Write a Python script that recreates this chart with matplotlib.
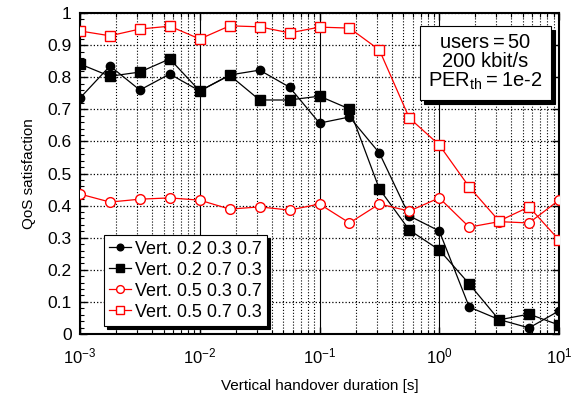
import numpy as np
import matplotlib
matplotlib.use("Agg")
import matplotlib.pyplot as plt
from matplotlib.patches import Shadow
from matplotlib.ticker import LogLocator, MultipleLocator, NullFormatter

plt.rcParams['font.family'] = ['Liberation Sans', 'DejaVu Sans']
plt.rcParams['mathtext.fontset'] = 'custom'
plt.rcParams['mathtext.rm'] = 'Liberation Sans'

# handover durations [s], 4 points per decade
durations = [1e-3, 1.78e-3, 3.16e-3, 5.62e-3, 1e-2, 1.78e-2, 3.16e-2, 5.62e-2,
             1e-1, 1.78e-1, 3.16e-1, 5.62e-1, 1.0, 1.78, 3.16, 5.62, 10.0]

vert_02_03_07 = [0.735, 0.835, 0.760, 0.810, 0.757, 0.807, 0.822, 0.769, 0.657,
                 0.676, 0.564, 0.368, 0.321, 0.084, 0.045, 0.019, 0.072]
vert_02_07_03 = [0.841, 0.803, 0.816, 0.857, 0.757, 0.806, 0.729, 0.729, 0.741,
                 0.701, 0.452, 0.324, 0.262, 0.156, 0.044, 0.062, 0.028]
vert_05_03_07 = [0.436, 0.411, 0.420, 0.424, 0.417, 0.389, 0.396, 0.386, 0.405,
                 0.346, 0.405, 0.383, 0.424, 0.333, 0.350, 0.346, 0.417]
vert_05_07_03 = [0.944, 0.929, 0.950, 0.959, 0.919, 0.960, 0.957, 0.938, 0.956,
                 0.953, 0.885, 0.673, 0.589, 0.458, 0.352, 0.396, 0.293]

labels = ['Vert. 0.2 0.3 0.7', 'Vert. 0.2 0.7 0.3',
          'Vert. 0.5 0.3 0.7', 'Vert. 0.5 0.7 0.3']
ytick_labels = ['0', '0.1', '0.2', '0.3', '0.4', '0.5', '0.6', '0.7', '0.8', '0.9', '1']

fig = plt.figure(figsize=(5.71, 3.94), dpi=100)
ax = fig.add_axes([80/571, 1 - 334/394, 479/571, 321/394])

ax.plot(durations, vert_02_03_07, 'k-', marker='o', ms=6, lw=0.9, label=labels[0], zorder=3)
ax.plot(durations, vert_02_07_03, 'k-', marker='s', ms=7, lw=0.9, label=labels[1], zorder=3)
ax.plot(durations, vert_05_03_07, 'r-', marker='o', ms=7, lw=0.9, mfc='white', mec='red',
        label=labels[2], zorder=3)
ax.plot(durations, vert_05_07_03, 'r-', marker='s', ms=7, lw=0.9, mfc='white', mec='red',
        label=labels[3], zorder=3)

ax.set_xscale('log')
ax.set_xlim(1e-3, 10)
ax.set_ylim(0, 1)
ax.xaxis.set_major_locator(LogLocator(base=10, numticks=10))
ax.xaxis.set_minor_locator(LogLocator(base=10, subs=np.arange(2, 10), numticks=20))
ax.xaxis.set_minor_formatter(NullFormatter())
ax.set_yticks(np.arange(0, 1.01, 0.1))
ax.set_yticklabels(ytick_labels)
ax.yaxis.set_minor_locator(MultipleLocator(0.02))

ax.tick_params(which='both', direction='in', top=True, right=True)
ax.tick_params(axis='y', labelsize=12.5, pad=6)
ax.tick_params(axis='x', labelsize=12, pad=9)
ax.tick_params(which='major', length=5, width=1)
ax.tick_params(which='minor', length=3, width=0.8)
ax.tick_params(axis='y', which='minor', right=False)

ax.grid(True, axis='x', which='major', color='black', ls='-', lw=0.8)
ax.grid(True, axis='x', which='minor', color='black', ls=':', lw=0.8)
ax.grid(True, axis='y', which='major', color='black', ls=':', lw=0.9)
for s in ax.spines.values():
    s.set_linewidth(1.5)

ax.set_xlabel('Vertical handover duration [s]', fontsize=11, labelpad=9)
ax.set_ylabel('QoS satisfaction', fontsize=11, labelpad=8)

leg = ax.legend(loc='lower left', bbox_to_anchor=(0.05, 0.025), fontsize=13,
                fancybox=False, shadow={'color': 'black', 'alpha': 1},
                framealpha=1, edgecolor='black', handlelength=1.2,
                handletextpad=0.2, borderpad=0.3, labelspacing=0.22,
                borderaxespad=0, markerscale=0.8)
leg.get_frame().set_linewidth(0.8)
leg.set_zorder(5)

txt = ax.text(0.846, 0.846, 'users$=$50\n200 kbit/s\nPER$_{\\mathrm{th}}$$=$1e-2',
              transform=ax.transAxes, ha='center', va='center', fontsize=14.5,
              linespacing=1.0, zorder=6,
              bbox=dict(boxstyle='square,pad=0.4', fc='white', ec='black', lw=0.8))
# shadow behind the info box
fig.canvas.draw()
sh = Shadow(txt.get_bbox_patch(), 3, -3, color='black', alpha=1)
sh.set_zorder(5.5)
ax.add_artist(sh)

fig.savefig('out.png', dpi=100)
